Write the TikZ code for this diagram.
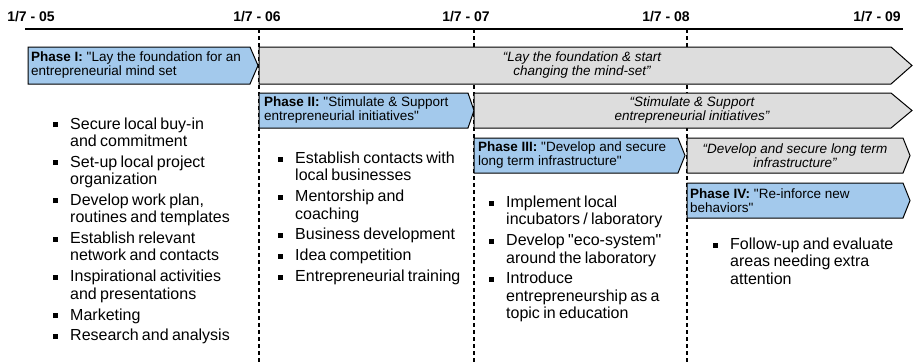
\documentclass[tikz,border=0pt]{standalone}
\usepackage{fontspec}
\setmainfont{Liberation Sans}
% a family without the TeX input mapping, so that " stays a straight quote
\newfontfamily\arial{Liberation Sans}
\definecolor{phaseblue}{RGB}{163,201,236}
\definecolor{trackgray}{RGB}{221,221,221}

% bullet list used below the phase boxes
\newenvironment{blist}{%
  \arial\fontsize{16}{17.3}\selectfont
  \begin{list}{\rule[2pt]{5pt}{5pt}}{%
    \setlength\leftmargin{17pt}\setlength\labelwidth{5pt}%
    \setlength\labelsep{12pt}\setlength\itemsep{3.6pt}%
    \setlength\parsep{0pt}\setlength\topsep{0pt}%
    \setlength\partopsep{0pt}\setlength\itemindent{0pt}}}%
  {\end{list}}

\tikzset{
  datelabel/.style={font=\arial\fontsize{14}{16}\selectfont\bfseries, inner sep=0pt, anchor=base},
  phasebox/.style={fill=phaseblue, draw=black, line width=1pt, line join=miter},
  trackbox/.style={fill=trackgray, draw=black, line width=1pt, line join=miter},
  phasetext/.style={font=\arial\fontsize{13.5}{14}\selectfont, align=left, inner sep=0pt, anchor=west},
  tracktext/.style={font=\arial\fontsize{13.5}{14}\selectfont\itshape, align=center, inner sep=0pt},
  milestone/.style={line width=1.3pt, dash pattern=on 4pt off 3pt},
  bulletcol/.style={text width=#1, inner sep=0pt, anchor=north west, align=left},
}

\begin{document}
\begin{tikzpicture}[x=1pt, y=-1pt]
\useasboundingbox (0,0) rectangle (913,364);

% time axis
\coordinate (axisL) at (25,29);
\coordinate (axisR) at (903,29);
\draw[line width=2.6pt] (axisL) -- (axisR);
\node[datelabel] (d05) at (31,21) {1/7 - 05};
\node[datelabel] (d06) at (257,21) {1/7 - 06};
\node[datelabel] (d07) at (466,21) {1/7 - 07};
\node[datelabel] (d08) at (666,21) {1/7 - 08};
\node[datelabel] (d09) at (877,21) {1/7 - 09};

% milestone markers
\coordinate (m06t) at (259,29); \coordinate (m06b) at (259,364);
\coordinate (m07t) at (474,29); \coordinate (m07b) at (474,364);
\coordinate (m08t) at (687,29); \coordinate (m08b) at (687,364);
\draw[milestone] (m06t) -- (m06b);
\draw[milestone] (m07t) -- (m07b);
\draw[milestone] (m08t) -- (m08b);

% chevron bars
\draw[phasebox] (28,47) -- (250,47) -- (258,65.5) -- (250,84) -- (28,84) -- cycle;
\draw[trackbox] (259,47) -- (891,47) -- (912,65.5) -- (891,84) -- (259,84) -- cycle;
\draw[phasebox] (259,93) -- (468,93) -- (474,110.5) -- (468,128) -- (259,128) -- cycle;
\draw[trackbox] (474,93) -- (891,93) -- (912,110.5) -- (891,128) -- (474,128) -- cycle;
\draw[phasebox] (474,138) -- (678,138) -- (685,155.5) -- (678,173) -- (474,173) -- cycle;
\draw[trackbox] (687,138) -- (903,138) -- (910,155.5) -- (903,173) -- (687,173) -- cycle;
\draw[phasebox] (687,183) -- (903,183) -- (910,200.5) -- (903,218) -- (687,218) -- cycle;

% bar texts
\node[phasetext] (p1) at (31,65.5) {\textbf{Phase I:} "Lay the foundation for an\\entrepreneurial mind set};
\node[tracktext] (t1) at (582,65.5) {“Lay the foundation \& start\\changing the mind-set”};
\node[phasetext] (p2) at (264,110.5) {\textbf{Phase II:} "Stimulate \& Support\\entrepreneurial initiatives"};
\node[tracktext] (t2) at (692,110.5) {“Stimulate \& Support\\entrepreneurial initiatives”};
\node[phasetext] (p3) at (478,155.5) {\textbf{Phase III:} "Develop and secure\\long term infrastructure"};
\node[tracktext] (t3) at (795,155.5) {“Develop and secure long term\\infrastructure”};
\node[phasetext] (p4) at (690,200.5) {\textbf{Phase IV:} "Re-inforce new\\behaviors"};

% activity lists
\node[bulletcol=200pt] (l1) at (53,111.5) {\begin{blist}
\item Secure local buy-in\\and commitment
\item Set-up local project\\organization
\item Develop work plan,\\routines and templates
\item Establish relevant\\network and contacts
\item Inspirational activities\\and presentations
\item Marketing
\item Research and analysis
\end{blist}};
\node[bulletcol=200pt] (l2) at (278,146) {\begin{blist}
\item Establish contacts with\\local businesses
\item Mentorship and\\coaching
\item Business development
\item Idea competition
\item Entrepreneurial training
\end{blist}};
\node[bulletcol=200pt] (l3) at (489,190) {\begin{blist}
\item Implement local\\incubators / laboratory
\item Develop "eco-system"\\around the laboratory
\item Introduce\\entrepreneurship as a\\topic in education
\end{blist}};
\node[bulletcol=200pt] (l4) at (713,232) {\begin{blist}
\item Follow-up and evaluate\\areas needing extra\\attention
\end{blist}};
\end{tikzpicture}
\end{document}
